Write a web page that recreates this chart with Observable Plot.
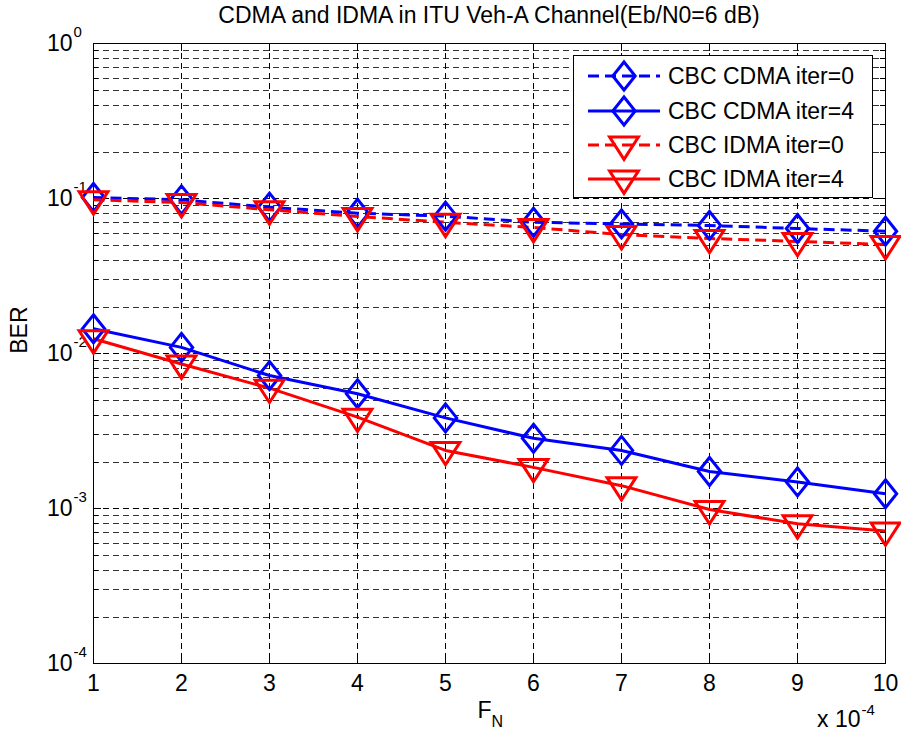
<!DOCTYPE html>
<html><head><meta charset="utf-8">
<script src="https://cdn.jsdelivr.net/npm/d3@7"></script>
<script src="https://cdn.jsdelivr.net/npm/@observablehq/plot@0.6"></script>
<style>
body{margin:0;background:#fff;font-family:"Liberation Sans",Arial,sans-serif;}
#wrap{position:relative;width:901px;height:742px;overflow:hidden;}
#title{height:30px;line-height:30px;padding:0 16px 0 93px;text-align:center;font-size:23px;color:#000;white-space:nowrap;}
#legend{position:absolute;left:0;top:0;pointer-events:none;}
</style></head><body>
<div id="wrap"><div id="title">CDMA and IDMA in ITU Veh-A Channel(Eb/N0=6 dB)</div><div id="chart"></div><svg id="legend" width="901" height="742"></svg></div>
<script>
// ---- data ----
const fN = [1, 2, 3, 4, 5, 6, 7, 8, 9, 10];
const cdmaIter0 = [0.102, 0.0985, 0.0883, 0.0807, 0.0773, 0.0706, 0.0688, 0.0673, 0.0643, 0.0618];
const cdmaIter4 = [0.0145, 0.0110, 0.00724, 0.00552, 0.00386, 0.00285, 0.00238, 0.00174, 0.00149, 0.00125];
const idmaIter0 = [0.0985, 0.0946, 0.0850, 0.0769, 0.0706, 0.0653, 0.0588, 0.0555, 0.0531, 0.0507];
const idmaIter4 = [0.0125, 0.0086, 0.0060, 0.0039, 0.00238, 0.00185, 0.00141, 0.00099, 0.00080, 0.00072];
const seriesNames = ["CBC CDMA iter=0", "CBC CDMA iter=4", "CBC IDMA iter=0", "CBC IDMA iter=4"];
const xTicks = [1, 2, 3, 4, 5, 6, 7, 8, 9, 10];
const yMajor = [1e-4, 1e-3, 1e-2, 1e-1, 1];
const yExponents = ["-4", "-3", "-2", "-1", "0"];

// ---- symbols ----
const diamondSym = {draw(ctx, size) {
  const r = Math.sqrt(size / Math.PI), w = r * 0.8, h = r;
  ctx.moveTo(0, -h); ctx.lineTo(w, 0); ctx.lineTo(0, h); ctx.lineTo(-w, 0); ctx.closePath();
}};
const triDownSym = {draw(ctx, size) {
  const r = Math.sqrt(size / Math.PI);
  ctx.moveTo(-r * 0.9, -r * 0.5); ctx.lineTo(r * 0.9, -r * 0.5); ctx.lineTo(0, r * 0.9); ctx.closePath();
}};

const series = [
  {name: seriesNames[0], values: cdmaIter0, color: "#0000ff", dash: "11,6", symbol: diamondSym, r: 14},
  {name: seriesNames[1], values: cdmaIter4, color: "#0000ff", dash: null, symbol: diamondSym, r: 14},
  {name: seriesNames[2], values: idmaIter0, color: "#ff0000", dash: "11,6", symbol: triDownSym, r: 16},
  {name: seriesNames[3], values: idmaIter4, color: "#ff0000", dash: null, symbol: triDownSym, r: 16}
];
const tables = series.map(s => s.values.map((v, i) => ({x: fN[i], y: v})));

const yMinor = [];
for (const d of yMajor.slice(0, -1)) for (let k = 2; k <= 9; ++k) yMinor.push(k * d);

const W = 901, H = 712, mL = 93, mR = 16, mT = 13.3, mB = 78.7;
const innerW = W - mL - mR, innerH = H - mT - mB;
const grid = {stroke: "#000", strokeWidth: 1, strokeDasharray: "6,4", shapeRendering: "crispEdges"};
const tk = {stroke: "#000", shapeRendering: "crispEdges"};
const font = 23;

const marks = [
  Plot.ruleY(yMinor, {y: d => d, ...grid, strokeOpacity: 0.8}),
  Plot.ruleY(yMajor, {y: d => d, ...grid}),
  Plot.ruleX(xTicks, {x: d => d, ...grid}),
  // inward ticks
  Plot.tickX(xTicks, {x: d => d, insetTop: innerH - 8, ...tk}),
  Plot.tickX(xTicks, {x: d => d, insetBottom: innerH - 8, ...tk}),
  Plot.tickY(yMajor, {y: d => d, insetRight: innerW - 8, ...tk}),
  Plot.tickY(yMajor, {y: d => d, insetLeft: innerW - 8, ...tk}),
  Plot.tickY(yMinor, {y: d => d, insetRight: innerW - 5, ...tk}),
  Plot.tickY(yMinor, {y: d => d, insetLeft: innerW - 5, ...tk}),
  Plot.frame({stroke: "#000", strokeWidth: 1, shapeRendering: "crispEdges"}),
  // y tick labels 10^k
  Plot.text(yMajor, {y: d => d, frameAnchor: "left", text: () => "10", textAnchor: "end", dx: -21, fontSize: font, fill: "#000"}),
  Plot.text(yMajor, {y: d => d, frameAnchor: "left", text: (d, i) => yExponents[i], textAnchor: "start", dx: -20, dy: -12, fontSize: 15, fill: "#000"}),
  // axis label and multiplier
  Plot.text(["BER"], {frameAnchor: "left", text: d => d, rotate: -90, dx: -74, fontSize: font, fill: "#000"}),
  Plot.text(["F"], {frameAnchor: "bottom", text: d => d, textAnchor: "end", dx: 2, dy: 54, fontSize: font, fill: "#000"}),
  Plot.text(["N"], {frameAnchor: "bottom", text: d => d, textAnchor: "start", dx: 2, dy: 63, fontSize: 16, fill: "#000"}),
  Plot.text(["x 10"], {frameAnchor: "bottom-right", text: d => d, textAnchor: "end", dx: -25, dy: 63, fontSize: font, fill: "#000"}),
  Plot.text(["-4"], {frameAnchor: "bottom-right", text: d => d, textAnchor: "start", dx: -24, dy: 51, fontSize: 15, fill: "#000"}),
  Plot.axisX(xTicks, {tickSize: 0, tickPadding: 11, fontSize: font, label: null, tickFormat: d => String(d)})
];
series.forEach((s, i) => {
  marks.push(Plot.line(tables[i], {x: "x", y: "y", stroke: s.color, strokeWidth: 3, strokeDasharray: s.dash, strokeLinecap: "butt"}));
});
series.forEach((s, i) => {
  marks.push(Plot.dot(tables[i], {x: "x", y: "y", symbol: s.symbol, r: s.r, stroke: s.color, strokeWidth: 3, fill: "none"}));
});

const chart = Plot.plot({
  width: W, height: H,
  marginLeft: mL, marginRight: mR, marginTop: mT, marginBottom: mB,
  style: {fontFamily: "'Liberation Sans', Arial, sans-serif", overflow: "visible", background: "transparent", color: "#000"},
  x: {type: "linear", domain: [1, 10], axis: null, label: null},
  y: {type: "log", domain: [1e-4, 1], axis: null, label: null},
  marks
});
document.getElementById("chart").appendChild(chart);

// ---- legend ----
const lg = d3.select("#legend");
const box = {x: 573.5, y: 55.5, w: 299, h: 142};
lg.append("rect").attr("x", box.x).attr("y", box.y).attr("width", box.w).attr("height", box.h)
  .attr("fill", "#fff").attr("stroke", "#000").attr("stroke-width", 1);
const rowY = [76, 111, 145, 179];
series.forEach((s, i) => {
  const g = lg.append("g");
  g.append("line").attr("x1", 588).attr("x2", 660).attr("y1", rowY[i]).attr("y2", rowY[i])
    .attr("stroke", s.color).attr("stroke-width", 3).attr("stroke-dasharray", s.dash);
  g.append("path").attr("d", d3.symbol(s.symbol, s.r * s.r * Math.PI)())
    .attr("transform", `translate(624,${rowY[i]})`)
    .attr("fill", "none").attr("stroke", s.color).attr("stroke-width", 3);
  g.append("text").attr("x", 668).attr("y", rowY[i]).attr("dy", "0.35em")
    .attr("font-size", font).attr("font-family", "'Liberation Sans', Arial, sans-serif").text(s.name);
});
</script>
</body></html>
